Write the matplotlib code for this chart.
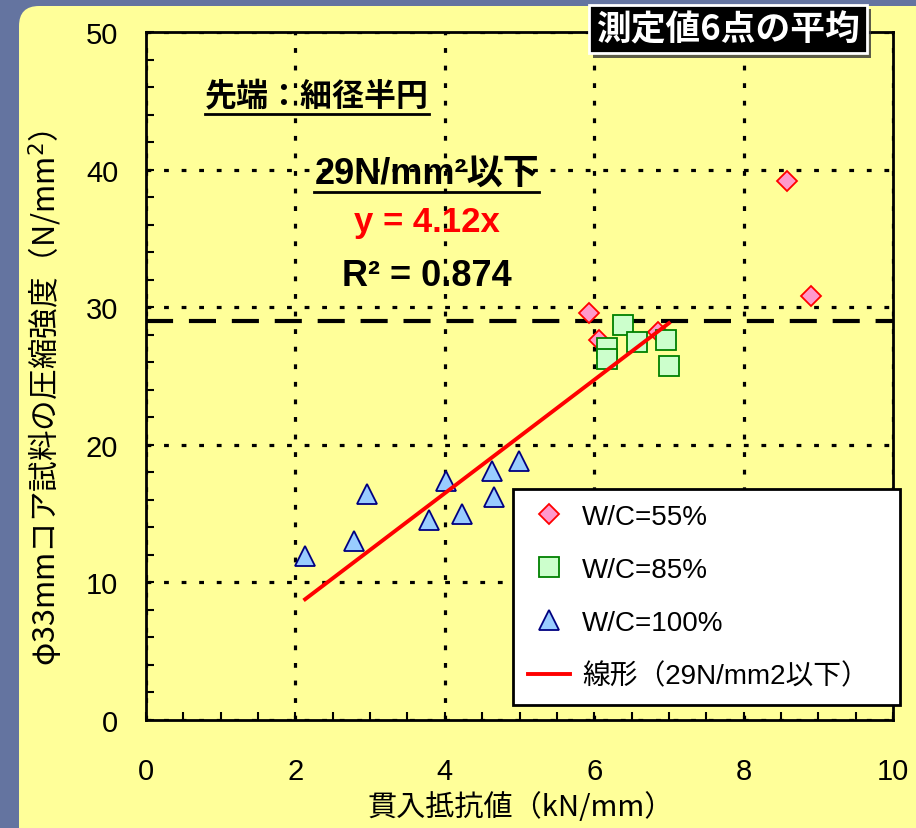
import matplotlib
matplotlib.use("Agg")
import matplotlib.pyplot as plt
import numpy as np
from matplotlib.patches import FancyBboxPatch
from matplotlib.lines import Line2D
import matplotlib.patheffects as pe

plt.rcParams['font.family'] = ['Noto Sans CJK JP', 'DejaVu Sans']
LATIN = ['Liberation Sans', 'Noto Sans CJK JP', 'DejaVu Sans']

# Penetration resistance (kN/mm) vs. core compressive strength (N/mm2)
wc55_x = [8.58, 8.90, 5.93, 6.06, 6.86]
wc55_y = [39.2, 30.8, 29.6, 27.6, 28.2]

wc85_x = [6.39, 6.57, 6.17, 6.17, 6.96, 7.00]
wc85_y = [28.7, 27.5, 27.0, 26.2, 27.6, 25.7]

wc100_x = [2.13, 2.78, 2.96, 3.79, 4.02, 4.23, 4.63, 4.66, 4.99]
wc100_y = [11.9, 13.0, 16.4, 14.5, 17.4, 15.0, 18.1, 16.2, 18.8]

threshold = 29.0
slope = 4.12
r2 = 0.874

x_ticks = [0, 2, 4, 6, 8, 10]
y_ticks = [0, 10, 20, 30, 40, 50]

W, H, DPI = 916, 829, 100
fig = plt.figure(figsize=(W / DPI, H / DPI), dpi=DPI)
fig.patch.set_facecolor('#6474A0')

# yellow rounded panel
panel = FancyBboxPatch((0.19, -0.5), 9.5, 8.22 + 0.5,
                       boxstyle="round,pad=0,rounding_size=0.2",
                       transform=fig.dpi_scale_trans, facecolor='#FFFF99',
                       edgecolor='none', zorder=-10)
fig.patches.append(panel)

ax = fig.add_axes([146 / W, 1 - 721 / H, 747 / W, 688 / H])
ax.set_facecolor('#FFFF99')
ax.set_xlim(0, 10)
ax.set_ylim(0, 50)

ax.set_xticks(x_ticks)
ax.set_yticks(y_ticks)
ax.set_xticks(np.arange(0, 10.01, 0.5), minor=True)
ax.set_yticks(np.arange(0, 50.01, 2), minor=True)
ax.tick_params(which='both', direction='in', length=6, width=1.5, colors='black',
               top=False, right=False)
ax.tick_params(axis='x', pad=27)
ax.tick_params(axis='y', pad=20)
for lab in ax.get_xticklabels() + ax.get_yticklabels():
    lab.set_fontfamily(LATIN)
    lab.set_fontsize(21)

for s in ['left', 'bottom', 'right', 'top']:
    ax.spines[s].set_linewidth(2)
    ax.spines[s].set_color('black')

dot = (0, (1.5, 4))
ax.grid(True, which='major', color='black', linestyle=dot, linewidth=2.3)
ax.set_axisbelow(True)
ax.axhline(threshold, color='black', linewidth=3, linestyle=(0, (6.5, 3.8)), zorder=2)

ax.plot(wc55_x, wc55_y, linestyle='none', marker='D', markersize=10.5,
        markerfacecolor='#FF99CC', markeredgecolor='#FF0000', markeredgewidth=1.3,
        label='W/C=55%', zorder=4)
ax.plot(wc85_x, wc85_y, linestyle='none', marker='s', markersize=14,
        markerfacecolor='#CCFFCC', markeredgecolor='#008000', markeredgewidth=1.3,
        label='W/C=85%', zorder=4)
ax.plot(wc100_x, wc100_y, linestyle='none', marker='^', markersize=15,
        markerfacecolor='#99CCFF', markeredgecolor='#000080', markeredgewidth=1.3,
        label='W/C=100%', zorder=4)

# linear fit through origin for the data at or below the threshold
all_x = np.array(wc55_x + wc85_x + wc100_x)
all_y = np.array(wc55_y + wc85_y + wc100_y)
sel = all_x[all_y <= threshold]
fx = np.array([sel.min(), sel.max()])
ax.plot(fx, slope * fx, color='#FF0000', linewidth=2.8,
        label='線形（29N/mm2以下）', zorder=5)

leg_h = (700 - 490) / 688
leg = ax.legend(loc='upper left', bbox_to_anchor=(0.491, 0.336 - leg_h, 0.518, leg_h),
                mode='expand', prop=dict(family=LATIN, size=20),
                frameon=True, fancybox=False, framealpha=1, edgecolor='black',
                handlelength=1.5, handletextpad=0.45, labelspacing=0.97,
                borderpad=0.55, borderaxespad=0, numpoints=1)
leg.get_frame().set_linewidth(2)
leg.set_zorder(10)

fig.text(521 / W, 1 - 808 / H, '貫入抵抗値（kN/mm）', ha='center', va='center', fontsize=21)
fig.text(46 / W, 1 - 398 / H, 'φ33mmコア試料の圧縮強度（N/mm$^2$）', ha='center',
         va='center', rotation=90, fontsize=22)

t1 = ax.text(0.229, 0.906, '先端：細径半円', transform=ax.transAxes, ha='center',
             va='center', fontsize=23, fontweight='bold')
t2 = ax.text(0.376, 0.795, '29N/mm²以下', transform=ax.transAxes, ha='center',
             va='center', fontsize=26, fontweight='bold', family=LATIN)
ax.text(0.376, 0.724, f'y = {slope:.2f}x', transform=ax.transAxes, ha='center',
        va='center', fontsize=25, fontweight='bold', color='#FF0000', family=LATIN)
ax.text(0.376, 0.646, f'R² = {r2:.3f}', transform=ax.transAxes, ha='center',
        va='center', fontsize=26, fontweight='bold', family=LATIN)

fig.canvas.draw()
renderer = fig.canvas.get_renderer()
inv = fig.transFigure.inverted()
for t in (t1, t2):
    bb = t.get_window_extent(renderer)
    (x0, y0), (x1, _) = inv.transform([[bb.x0, bb.y0], [bb.x1, bb.y0]])
    fig.add_artist(Line2D([x0, x1], [y0 - 0.002, y0 - 0.002], transform=fig.transFigure,
                          color='black', linewidth=2))

fig.text(728 / W, 1 - 30 / H, '測定値6点の平均', ha='center', va='center',
         fontsize=25, fontweight='bold', color='white',
         bbox=dict(boxstyle='square,pad=0.2', facecolor='black', edgecolor='white',
                   linewidth=2,
                   path_effects=[pe.SimplePatchShadow(offset=(3, -3), shadow_rgbFace='#333333',
                                                      alpha=0.8), pe.Normal()]),
         zorder=20)

fig.savefig('out.png', dpi=DPI, facecolor=fig.get_facecolor())
